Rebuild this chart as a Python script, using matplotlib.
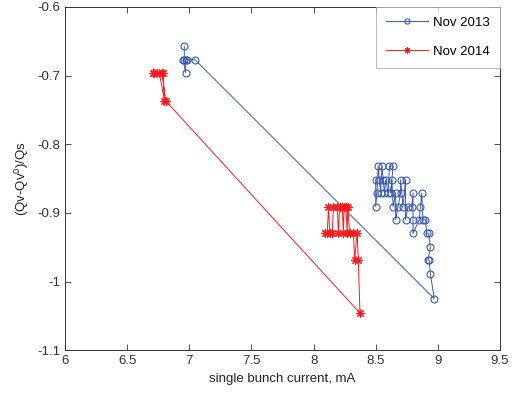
import matplotlib
matplotlib.use('Agg')
import matplotlib.pyplot as plt

plt.rcParams['font.family'] = ['Liberation Sans', 'DejaVu Sans']
plt.rcParams['mathtext.default'] = 'regular'

# Nov 2013 (blue, circles)
blue_x = [6.96, 6.96, 6.95, 6.97, 6.97, 6.98, 7.046, 8.971, 8.94, 8.93, 8.92, 8.94,
          8.925, 8.91, 8.90, 8.88, 8.87, 8.86, 8.85, 8.80, 8.80, 8.80, 8.79, 8.76,
          8.74, 8.74, 8.72, 8.70, 8.70, 8.68, 8.66, 8.66, 8.64, 8.63, 8.62, 8.64,
          8.61, 8.60, 8.58, 8.57, 8.56, 8.55, 8.54, 8.53, 8.52, 8.51, 8.50, 8.50]
blue_y = [-0.657, -0.677, -0.677, -0.696, -0.677, -0.677, -0.677, -1.025, -0.989, -0.969, -0.969, -0.950,
          -0.930, -0.930, -0.910, -0.910, -0.871, -0.891, -0.910, -0.930, -0.910, -0.871, -0.891, -0.891,
          -0.910, -0.852, -0.891, -0.852, -0.871, -0.891, -0.910, -0.871, -0.891, -0.852, -0.871, -0.832,
          -0.832, -0.871, -0.852, -0.871, -0.852, -0.832, -0.871, -0.852, -0.832, -0.871, -0.891, -0.852]

# Nov 2014 (red, stars)
red_x = [6.71, 6.72, 6.74, 6.76, 6.80, 6.79, 6.78, 6.81, 8.373, 8.36, 8.35, 8.33,
         8.32, 8.29, 8.275, 8.27, 8.26, 8.245, 8.24, 8.23, 8.21, 8.20, 8.19, 8.16,
         8.15, 8.13, 8.12, 8.11, 8.09]
red_y = [-0.697, -0.697, -0.697, -0.697, -0.737, -0.697, -0.697, -0.737, -1.046, -0.968, -0.929, -0.968,
         -0.929, -0.929, -0.891, -0.929, -0.891, -0.891, -0.929, -0.891, -0.891, -0.929, -0.891, -0.891,
         -0.929, -0.929, -0.891, -0.929, -0.929]

fig = plt.figure(figsize=(5.16, 4.03), dpi=100)
ax = fig.add_axes([0.126, 0.131, 0.843, 0.852])

ax.plot(blue_x, blue_y, '-o', color='#3a5bb0', lw=0.7, ms=5, mfc='none', mew=0.8,
        label='Nov 2013')
ax.plot(red_x, red_y, '-', marker=(8, 2, 0), color='#ff1a1a', lw=0.7, ms=6, mew=0.8,
        label='Nov 2014')

ax.set_xlim(6, 9.5)
ax.set_ylim(-1.1, -0.6)
ax.set_xticks([6, 6.5, 7, 7.5, 8, 8.5, 9, 9.5])
ax.set_xticklabels(['6', '6.5', '7', '7.5', '8', '8.5', '9', '9.5'])
ax.set_yticks([-1.1, -1, -0.9, -0.8, -0.7, -0.6])
ax.set_yticklabels(['-1.1', '-1', '-0.9', '-0.8', '-0.7', '-0.6'])
ax.tick_params(direction='in', top=True, right=True, length=4, width=0.6,
               labelsize=9.5, colors='#333333')
for s in ax.spines.values():
    s.set_linewidth(0.7)
    s.set_color('#333333')

ax.set_xlabel('single bunch current, mA', fontsize=9.5, color='#222222')
ax.set_ylabel('(Qv-Qv$^{0}$)/Qs', fontsize=9.5, color='#222222')

leg = ax.legend(loc='upper right', bbox_to_anchor=(1, 1), borderaxespad=0,
                fancybox=False, edgecolor='#aaaaaa', fontsize=9.5,
                handlelength=3.2, handletextpad=0.4, borderpad=0.75,
                labelspacing=1.25, markerscale=0.75)
leg.get_frame().set_linewidth(0.7)

fig.savefig('out.png', dpi=100)
